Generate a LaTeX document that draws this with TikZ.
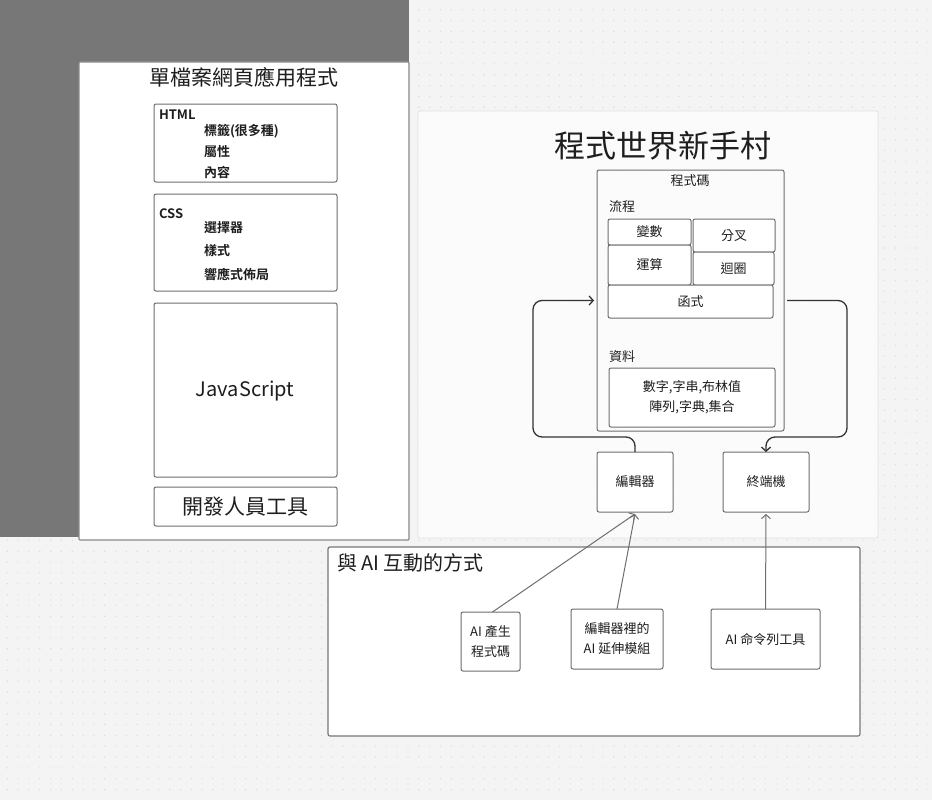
\documentclass[tikz,border=0pt]{standalone}
\usepackage{fontspec}
\setmainfont{Noto Sans CJK TC}[BoldFont={Noto Sans CJK TC Bold}]
\usetikzlibrary{arrows.meta,calc}
\definecolor{bgc}{HTML}{F4F4F4}
\definecolor{dotc}{HTML}{DCDCDC}
\definecolor{darkc}{HTML}{777777}
\definecolor{linec}{HTML}{6E6E6E}
\definecolor{txtc}{HTML}{1E1E1E}
\definecolor{arrc}{HTML}{333333}
\definecolor{panelc}{HTML}{8A8A8A}
\definecolor{lightc}{HTML}{E2E2E2}
\begin{document}
\begin{tikzpicture}[x=1pt,y=-1pt,
  box/.style={draw=linec, line width=1pt, rounded corners=2pt, fill=white, inner sep=0pt, outer sep=0pt, anchor=north west, text=txtc, align=center},
  lbl/.style={inner sep=0pt, outer sep=0pt, text=txtc},
  small/.style={font=\fontsize{13}{20}\selectfont},
  smallb/.style={font=\fontsize{13}{20}\selectfont\bfseries},
  big/.style={font=\fontsize{21}{24}\selectfont},
  loopc/.style={draw=arrc, line width=1.3pt, rounded corners=9pt, -{Straight Barb[length=4pt,width=9pt]}},
  linkc/.style={draw=linec, line width=1pt, -{Straight Barb[length=4pt,width=9pt]}}
]
\useasboundingbox (0,0) rectangle (932,800);
\fill[bgc] (0,0) rectangle (932,800);
\fill[dotc] \foreach \i in {0,...,85}{\foreach \j in {0,...,73}{(6.7+10.83*\i, 9.2+10.83*\j) rectangle ++(1.1,1.1)}};
\fill[darkc] (0,0) rectangle (409,537);

% left panel
\node[box, draw=panelc, line width=1.2pt, rounded corners=1pt, minimum width=330, minimum height=478] (left) at (79,62) {};
\node[lbl, big] (ltitle) at (244,77) {單檔案網頁應用程式};
\node[box, minimum width=183, minimum height=78] (html) at (154,104) {};
\node[lbl, anchor=west, smallb] (htmlt) at (159,115) {HTML};
\node[lbl, anchor=west, smallb] (h1) at (204,131) {標籤(很多種)};
\node[lbl, anchor=west, smallb] (h2) at (204,152) {屬性};
\node[lbl, anchor=west, smallb] (h3) at (204,172) {內容};
\node[box, minimum width=183, minimum height=97] (css) at (154,194) {};
\node[lbl, anchor=west, smallb] (csst) at (159,214) {CSS};
\node[lbl, anchor=west, smallb] (c1) at (204,228) {選擇器};
\node[lbl, anchor=west, smallb] (c2) at (204,251) {樣式};
\node[lbl, anchor=west, smallb] (c3) at (204,274) {響應式佈局};
\node[box, minimum width=183, minimum height=174] (js) at (154,303) {};
\node[lbl, font=\fontsize{20}{24}\selectfont] (jst) at (245,391) {JavaScript};
\node[box, minimum width=183, minimum height=39, big] (dev) at (154,487) {開發人員工具};

% right panel
\node[box, draw=lightc, fill=white, fill opacity=0.72, line width=0.8pt, minimum width=460, minimum height=427] (right) at (418,111) {};
\node[lbl, font=\fontsize{31}{34}\selectfont] (rtitle) at (663,146) {程式世界新手村};
\node[box, fill=none, minimum width=187, minimum height=261] (code) at (597,170) {};
\node[lbl, small] (codet) at (690,181) {程式碼};
\node[lbl, small, anchor=west] (flow) at (609,207) {流程};
\node[box, small, minimum width=83, minimum height=26] (var) at (608,219) {變數};
\node[box, small, minimum width=83, minimum height=40] (op) at (608,245) {運算};
\node[box, small, minimum width=82, minimum height=33] (br) at (693,219) {分叉};
\node[box, small, minimum width=81, minimum height=33] (lp) at (693,252) {迴圈};
\node[box, small, minimum width=165, minimum height=33] (fn) at (608,285) {函式};
\node[lbl, small, anchor=west] (datat) at (609,357) {資料};
\node[box, small, minimum width=166, minimum height=59] (data) at (609,368) {數字,字串,布林值\\陣列,字典,集合};
\node[box, small, minimum width=76, minimum height=60] (ed) at (597,452) {編輯器};
\node[box, small, minimum width=86, minimum height=60] (tm) at (723,452) {終端機};

\draw[loopc] (ed.north) -- ++(0,-15) -| ([xshift=-64pt]code.west) -- ([xshift=-3pt]code.west);
\draw[loopc] ([xshift=3pt]code.east) -- ([xshift=63pt]code.east) |- ([yshift=15pt]tm.north) -- (tm.north);

% bottom panel
\node[box, draw=darkc, line width=1.2pt, minimum width=532, minimum height=189] (ai) at (328,547) {};
\node[lbl, anchor=west, font=\fontsize{20}{24}\selectfont] (ait) at (337,563) {與 AI 互動的方式};
\node[box, small, minimum width=59, minimum height=59] (ai1) at (461,612) {AI 產生\\程式碼};
\node[box, small, minimum width=92, minimum height=60] (ai2) at (571,609) {編輯器裡的\\AI 延伸模組};
\node[box, small, minimum width=109, minimum height=60] (ai3) at (711,609) {AI 命令列工具};

\draw[linkc] ([xshift=2pt]ai1.north) -- ([yshift=-2pt]ed.south);
\draw[linkc] (ai2.north) -- ([yshift=-2pt]ed.south);
\draw[linkc] (ai3.north) -- ([yshift=-2pt]tm.south);
\end{tikzpicture}
\end{document}
